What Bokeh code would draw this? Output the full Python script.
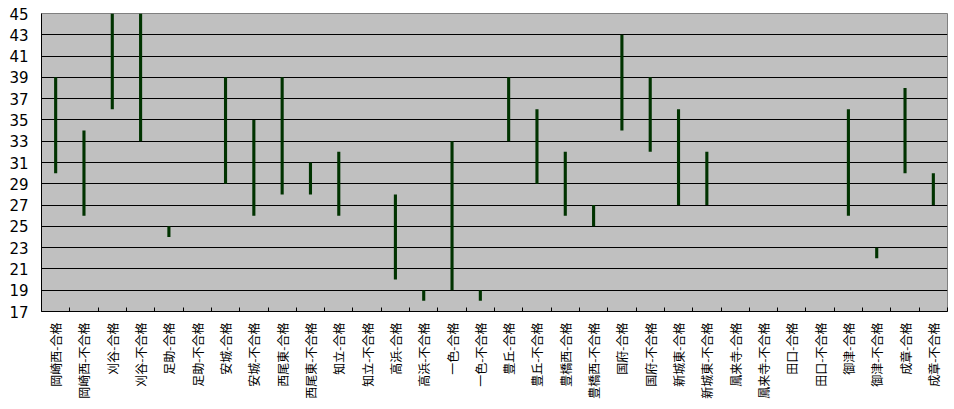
import math
from bokeh.plotting import figure
from bokeh.models import ColumnDataSource, Range1d, FixedTicker, LinearAxis
from bokeh.embed import file_html
from bokeh.resources import INLINE

categories = ["岡崎西-合格", "岡崎西-不合格", "刈谷-合格", "刈谷-不合格", "足助-合格", "足助-不合格",
              "安城-合格", "安城-不合格", "西尾東-合格", "西尾東-不合格", "知立-合格", "知立-不合格",
              "高浜-合格", "高浜-不合格", "一色-合格", "一色-不合格", "豊丘-合格", "豊丘-不合格",
              "豊橋西-合格", "豊橋西-不合格", "国府-合格", "国府-不合格", "新城東-合格", "新城東-不合格",
              "鳳来寺-合格", "鳳来寺-不合格", "田口-合格", "田口-不合格", "御津-合格", "御津-不合格",
              "成章-合格", "成章-不合格"]
low = [30, 26, 36, 33, 24, None, 29, 26, 28, 28, 26, None, 20, 18, 19, 18,
       33, 29, 26, 25, 34, 32, 27, 27, None, None, None, None, 26, 22, 30, 27]
high = [39, 34, 45, 45, 25, None, 39, 35, 39, 31, 32, None, 28, 19, 33, 19,
        39, 36, 32, 27, 43, 39, 36, 32, None, None, None, None, 36, 23, 38, 30]
y_ticks = list(range(17, 46, 2))

n = len(categories)
xs, lo, hi = [], [], []
for i, (a, b) in enumerate(zip(low, high)):
    if a is not None and b is not None:
        xs.append(i + 0.5)
        lo.append(a)
        hi.append(b)
src = ColumnDataSource(dict(x=xs, bottom=lo, top=hi))

p = figure(width=948, height=405, output_backend="svg", toolbar_location=None,
           x_range=Range1d(0, n), y_range=Range1d(17, 45),
           x_axis_location=None, y_axis_location=None,
           min_border_left=41, min_border_right=1, min_border_top=13, min_border_bottom=94)
p.background_fill_color = "#c0c0c0"
p.border_fill_color = "white"
p.outline_line_color = "#808080"
p.outline_line_width = 1

p.vbar(x="x", bottom="bottom", top="top", width=0.11, source=src,
       fill_color="#003300", line_color=None)

# x axis: labels at centres, small inward ticks at category boundaries
xaxis = LinearAxis(ticker=FixedTicker(ticks=[i + 0.5 for i in range(n)],
                                      minor_ticks=list(range(n + 1))))
xaxis.major_label_overrides = {i + 0.5: c for i, c in enumerate(categories)}
xaxis.major_label_orientation = math.pi / 2
xaxis.major_label_text_font = "Noto Sans CJK JP"
xaxis.major_label_text_font_size = "12px"
xaxis.major_label_text_color = "black"
xaxis.major_tick_in = 0
xaxis.major_tick_out = 0
xaxis.minor_tick_in = 4
xaxis.minor_tick_out = 0
xaxis.minor_tick_line_color = "black"
xaxis.axis_line_color = "black"
xaxis.major_label_standoff = 11
p.add_layout(xaxis, "below")

yaxis = LinearAxis(ticker=FixedTicker(ticks=y_ticks))
yaxis.major_label_text_font = "DejaVu Sans"
yaxis.major_label_text_font_size = "15px"
yaxis.major_label_text_color = "black"
yaxis.major_tick_in = 0
yaxis.major_tick_out = 0
yaxis.minor_tick_in = 0
yaxis.minor_tick_out = 0
yaxis.axis_line_color = "black"
yaxis.major_label_standoff = 13
p.add_layout(yaxis, "left")

p.xgrid.visible = False
p.ygrid.ticker = FixedTicker(ticks=y_ticks[1:-1])
p.ygrid.grid_line_color = "black"
p.ygrid.grid_line_width = 1
p.ygrid.grid_line_alpha = 1.0

open("out.html", "w").write(file_html(p, INLINE))
